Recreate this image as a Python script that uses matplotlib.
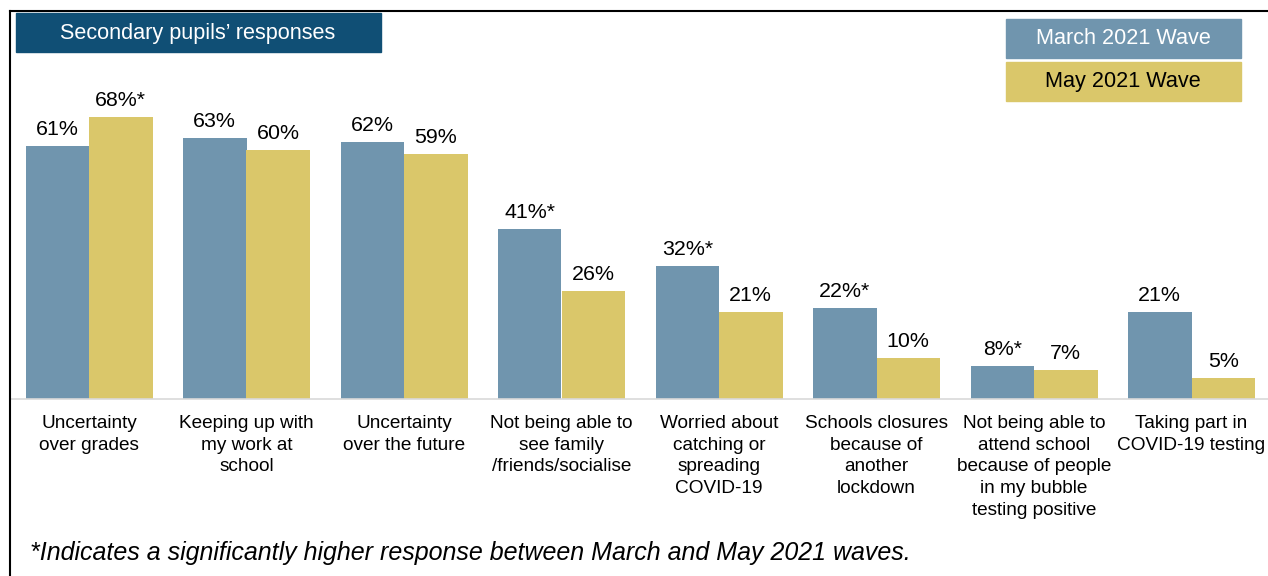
import matplotlib.pyplot as plt
import numpy as np

plt.rcParams['font.family'] = ['Liberation Sans', 'DejaVu Sans']

categories = ['Uncertainty\nover grades',
              'Keeping up with\nmy work at\nschool',
              'Uncertainty\nover the future',
              'Not being able to\nsee family\n/friends/socialise',
              'Worried about\ncatching or\nspreading\nCOVID-19',
              'Schools closures\nbecause of\nanother\nlockdown',
              'Not being able to\nattend school\nbecause of people\nin my bubble\ntesting positive',
              'Taking part in\nCOVID-19 testing']
march = [61, 63, 62, 41, 32, 22, 8, 21]
may = [68, 60, 59, 26, 21, 10, 7, 5]
# significantly higher than the other wave
march_sig = [False, False, False, True, True, True, True, False]
may_sig = [True, False, False, False, False, False, False, False]

blue = '#7095AE'
gold = '#DAC76A'
navy = '#104F75'

W, H = 1268, 576
fig = plt.figure(figsize=(W / 100, H / 100), dpi=100)

# axes: baseline at y=399px from top, ~4.15 px per percentage point
base = 399
ax = fig.add_axes([10.25 / W, (H - base) / H, 1260 / W, base / H])
ax.set_xlim(-0.5, 7.5)
ax.set_ylim(0, base / 4.148)

x = np.arange(len(categories))
w = 63.5 / 157.5
ax.bar(x - w / 2, march, w, color=blue)
ax.bar(x + w / 2, may, w, color=gold)

for xi, v, s in zip(x, march, march_sig):
    ax.annotate(f'{v}%' + ('*' if s else ''), (xi - w / 2, v), xytext=(0, 5),
                textcoords='offset points', ha='center', va='bottom', fontsize=15.4)
for xi, v, s in zip(x, may, may_sig):
    ax.annotate(f'{v}%' + ('*' if s else ''), (xi + w / 2, v), xytext=(0, 5),
                textcoords='offset points', ha='center', va='bottom', fontsize=15.4)

ax.set_xticks(x)
ax.set_xticklabels(categories, fontsize=13.7, linespacing=1.36)
ax.tick_params(axis='x', length=0, pad=11.5)
ax.set_yticks([])
for side in ['top', 'left', 'right']:
    ax.spines[side].set_visible(False)
ax.spines['bottom'].set_color('#D9D9D9')
ax.spines['bottom'].set_linewidth(1.2)

# outer frame (left and top edges)
fig.add_artist(plt.Line2D([9.5 / W, 9.5 / W], [0, 1 - 11 / H], color='black', lw=1.5))
fig.add_artist(plt.Line2D([9.5 / W, 1], [1 - 11 / H, 1 - 11 / H], color='black', lw=1.5))

# title box
fig.add_artist(plt.Rectangle((16 / W, 1 - 52 / H), 365 / W, 39 / H, color=navy))
fig.text(198 / W, 1 - 33.5 / H, 'Secondary pupils\u2019 responses', color='white',
         fontsize=15.6, ha='center', va='center')

# legend boxes
fig.add_artist(plt.Rectangle((1006 / W, 1 - 58 / H), 235 / W, 39 / H, color=blue))
fig.text(1123 / W, 1 - 39 / H, 'March 2021 Wave', color='white', fontsize=15.6,
         ha='center', va='center')
fig.add_artist(plt.Rectangle((1006 / W, 1 - 101 / H), 235 / W, 39 / H, color=gold))
fig.text(1123 / W, 1 - 82 / H, 'May 2021 Wave', color='black', fontsize=15.6,
         ha='center', va='center')

fig.text(30 / W, 1 - 553 / H,
         '*Indicates a significantly higher response between March and May 2021 waves.',
         fontsize=18, style='italic', ha='left', va='center')

fig.savefig('out.png', dpi=100)
